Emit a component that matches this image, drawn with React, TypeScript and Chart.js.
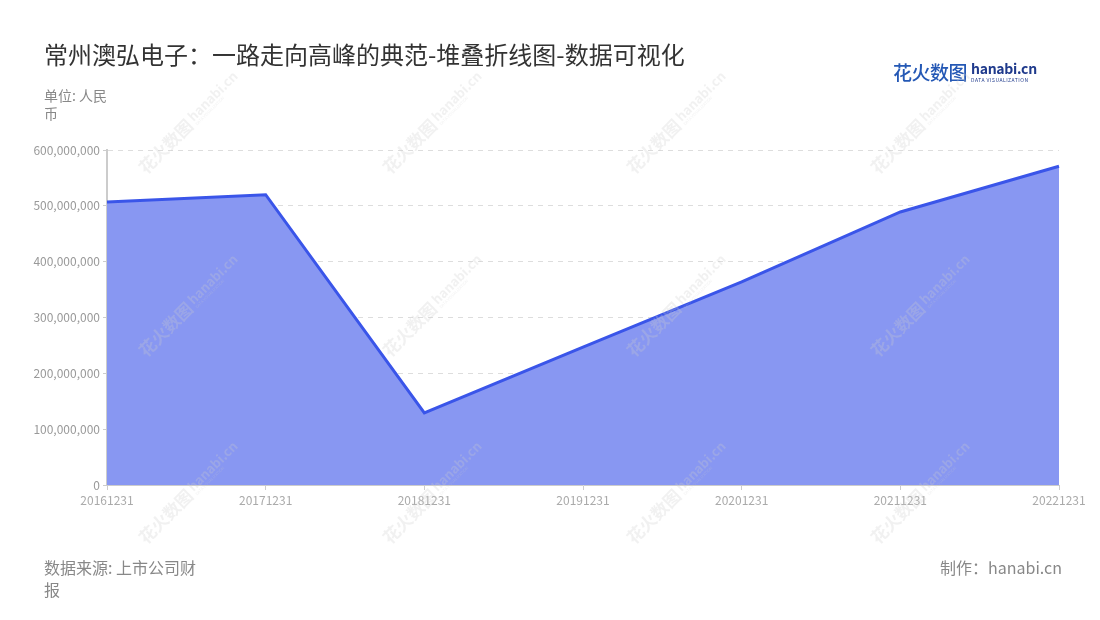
import React, { useEffect, useRef } from "react";
import { Chart, registerables } from "chart.js";

Chart.register(...registerables);

const categories = ["20161231", "20171231", "20181231", "20191231", "20201231", "20211231", "20221231"];
const revenue = [507000000, 520000000, 129000000, 247000000, 364000000, 489000000, 571000000];
const yTicks = [0, 100000000, 200000000, 300000000, 400000000, 500000000, 600000000];

const FONT = '"Noto Sans CJK SC", "Noto Sans", sans-serif';

const wmCols = [183, 427, 671, 915];
const wmRows = [127, 310, 497];

function Watermark({ x, y }: { x: number; y: number }) {
  return (
    <div
      style={{
        position: "absolute",
        left: x - 60,
        top: y - 12,
        width: 120,
        height: 24,
        transform: "rotate(-45deg)",
        color: "rgba(205,205,205,0.28)",
        fontFamily: FONT,
        whiteSpace: "nowrap",
        pointerEvents: "none",
        display: "flex",
        alignItems: "center",
        gap: 3,
      }}
    >
      <span style={{ fontSize: 17, fontWeight: 700 }}>花火数图</span>
      <span style={{ display: "flex", flexDirection: "column", lineHeight: 1 }}>
        <span style={{ fontSize: 13, fontWeight: 700 }}>hanabi.cn</span>
        <span style={{ fontSize: 4 }}>DATA VISUALIZATION</span>
      </span>
    </div>
  );
}

export default function App() {
  const ref = useRef<HTMLCanvasElement | null>(null);

  useEffect(() => {
    if (!ref.current) return;
    Chart.defaults.font.family = FONT;
    const chart = new Chart(ref.current, {
      type: "line",
      data: {
        labels: categories,
        datasets: [
          {
            label: "营业收入",
            data: revenue,
            borderColor: "#3a55e9",
            borderWidth: 3,
            backgroundColor: "#8897f2",
            fill: "origin",
            pointRadius: 0,
            pointHoverRadius: 0,
            tension: 0,
          },
        ],
      },
      options: {
        animation: false,
        responsive: false,
        maintainAspectRatio: false,
        layout: { padding: { left: 0, top: 150, right: 41, bottom: 105 } },
        plugins: { legend: { display: false }, tooltip: { enabled: false } },
        scales: {
          x: {
            offset: false,
            afterFit: (scale: any) => {
              scale.height = 30;
            },
            grid: { display: true, drawOnChartArea: false, drawTicks: true, tickLength: 5, color: "#cccccc" },
            border: { display: true, color: "#cccccc", width: 1 },
            ticks: { color: "#aaaaaa", font: { size: 12 }, padding: 3, maxRotation: 0, autoSkip: false },
          },
          y: {
            min: 0,
            max: 600000000,
            afterFit: (scale: any) => {
              scale.width = 107;
            },
            afterBuildTicks: (scale: any) => {
              scale.ticks = yTicks.map((v) => ({ value: v }));
            },
            grid: {
              color: "#dddddd",
              drawTicks: true,
              tickLength: 4,
              tickColor: "#cccccc",
            },
            border: { display: true, color: "#cccccc", width: 2, dash: [5, 5] },
            ticks: {
              color: "#999999",
              font: { size: 12 },
              padding: 3,
              callback: (v: any) => Number(v).toLocaleString("en-US"),
            },
          },
        },
      },
    });
    return () => chart.destroy();
  }, []);

  return (
    <div
      style={{
        position: "absolute",
        left: 0,
        top: 0,
        width: 1100,
        height: 620,
        background: "#ffffff",
        overflow: "hidden",
        fontFamily: FONT,
      }}
    >
      <canvas ref={ref} width={1100} height={620} style={{ position: "absolute", left: 0, top: 0, width: 1100, height: 620 }} />
      <div style={{ position: "absolute", left: 44, top: 37, fontSize: 24, lineHeight: "34px", color: "#333333", whiteSpace: "nowrap" }}>
        常州澳弘电子：一路走向高峰的典范-堆叠折线图-数据可视化
      </div>
      <div style={{ position: "absolute", left: 44, top: 86, fontSize: 14, lineHeight: "18px", color: "#888888" }}>
        单位: 人民<br />币
      </div>
      <div style={{ position: "absolute", left: 893, top: 58, display: "flex", alignItems: "center", whiteSpace: "nowrap" }}>
        <span style={{ fontSize: 19, fontWeight: 500, color: "#2458b5", letterSpacing: -0.5 }}>花火数图</span>
        <span style={{ display: "flex", flexDirection: "column", marginLeft: 4, lineHeight: 1 }}>
          <span style={{ fontSize: 14, fontWeight: 700, color: "#1f3a8c", letterSpacing: -0.3 }}>hanabi.cn</span>
          <span style={{ fontSize: 5, color: "#1f3a8c", letterSpacing: 0.5, marginTop: 2 }}>DATA VISUALIZATION</span>
        </span>
      </div>
      <div style={{ position: "absolute", left: 44, top: 556, fontSize: 16, lineHeight: "22px", color: "#888888" }}>
        数据来源: 上市公司财<br />报
      </div>
      <div style={{ position: "absolute", right: 38, top: 556, fontSize: 16, lineHeight: "22px", color: "#888888", whiteSpace: "nowrap" }}>
        制作：hanabi.cn
      </div>
      {wmRows.map((y) => wmCols.map((x) => <Watermark key={`${x}-${y}`} x={x} y={y} />))}
    </div>
  );
}
